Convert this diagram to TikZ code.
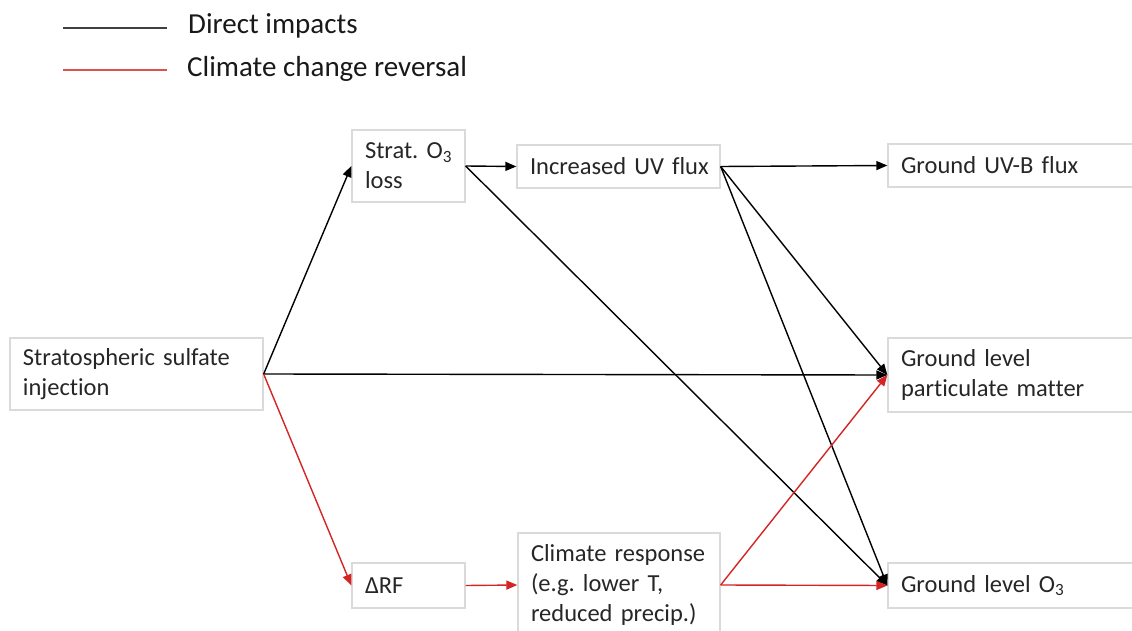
\documentclass[tikz,border=0pt]{standalone}
\usepackage{fontspec}
\setmainfont{Carlito}[Ligatures=NoCommon]
\usetikzlibrary{arrows.meta}
\definecolor{ccred}{RGB}{212,36,36}
\definecolor{boxgray}{RGB}{218,218,218}
\tikzset{
  box/.style={rectangle, draw=boxgray, line width=1.3pt, align=left, inner xsep=13pt, inner ysep=0pt,
    font=\fontsize{24.5}{30}\selectfont\frenchspacing, text=black!85},
  imp/.style={line width=1.4pt, draw=black, -{Triangle[length=11pt,width=9pt]}},
  rev/.style={line width=1.4pt, draw=ccred, -{Triangle[length=11pt,width=9pt]}},
  legtext/.style={anchor=west, font=\fontsize{29}{34}\selectfont, text=black!90, inner sep=0pt},
}
\begin{document}
\begin{tikzpicture}[x=1pt,y=-1pt]
\useasboundingbox (0,0) rectangle (1132,631);
\clip (0,0) rectangle (1132,631);
% legend
\coordinate (l1a) at (63,28);
\coordinate (l1b) at (167,28);
\coordinate (l2a) at (63,70);
\coordinate (l2b) at (167,70);
\draw[line width=1.4pt, black!75] (l1a) -- (l1b);
\draw[line width=1.4pt, ccred!80] (l2a) -- (l2b);
\node[legtext] (leg1) at (188,26) {Direct impacts};
\node[legtext] (leg2) at (187,69) {Climate change reversal};
% boxes
\node[box, minimum width=253pt, minimum height=72pt, text width=227pt] (sulf) at (136.5,374) {Stratospheric~sulfate\\injection};
\node[box, minimum width=113pt, minimum height=72pt, text width=87pt] (strat) at (408.5,166) {Strat.~O\textsubscript{3}\\loss};
\node[box, minimum width=203pt, minimum height=43pt, text width=177pt] (uv) at (618.5,166.5) {Increased~UV~flux};
\node[box, minimum width=252pt, minimum height=43pt, text width=226pt] (uvb) at (1014,165.5) {Ground~UV-B~flux};
\node[box, minimum width=252pt, minimum height=74pt, text width=226pt] (pm) at (1014,375) {Ground~level\\particulate~matter};
\node[box, minimum width=113pt, minimum height=45pt, text width=87pt] (drf) at (408.5,585.5) {ΔRF};
\node[box, minimum width=202pt, minimum height=104pt, text width=176pt] (clim) at (619,585) {Climate~response\\(e.g.~lower~T,\\reduced~precip.)};
\node[box, minimum width=252pt, minimum height=45pt, text width=226pt] (o3) at (1014,585.5) {Ground~level~O\textsubscript{3}};
% connectors
\draw[imp] (sulf.east) -- (strat.west);
\draw[imp] (sulf.east) -- (pm.west);
\draw[rev] (sulf.east) -- (drf.west);
\draw[imp] (strat.east) -- (uv.west);
\draw[imp] (strat.east) -- (o3.west);
\draw[imp] (uv.east) -- (uvb.west);
\draw[imp] (uv.east) -- (pm.west);
\draw[imp] (uv.east) -- (o3.west);
\draw[rev] (drf.east) -- (clim.west);
\draw[rev] (clim.east) -- (pm.west);
\draw[rev] (clim.east) -- (o3.west);
\end{tikzpicture}
\end{document}
